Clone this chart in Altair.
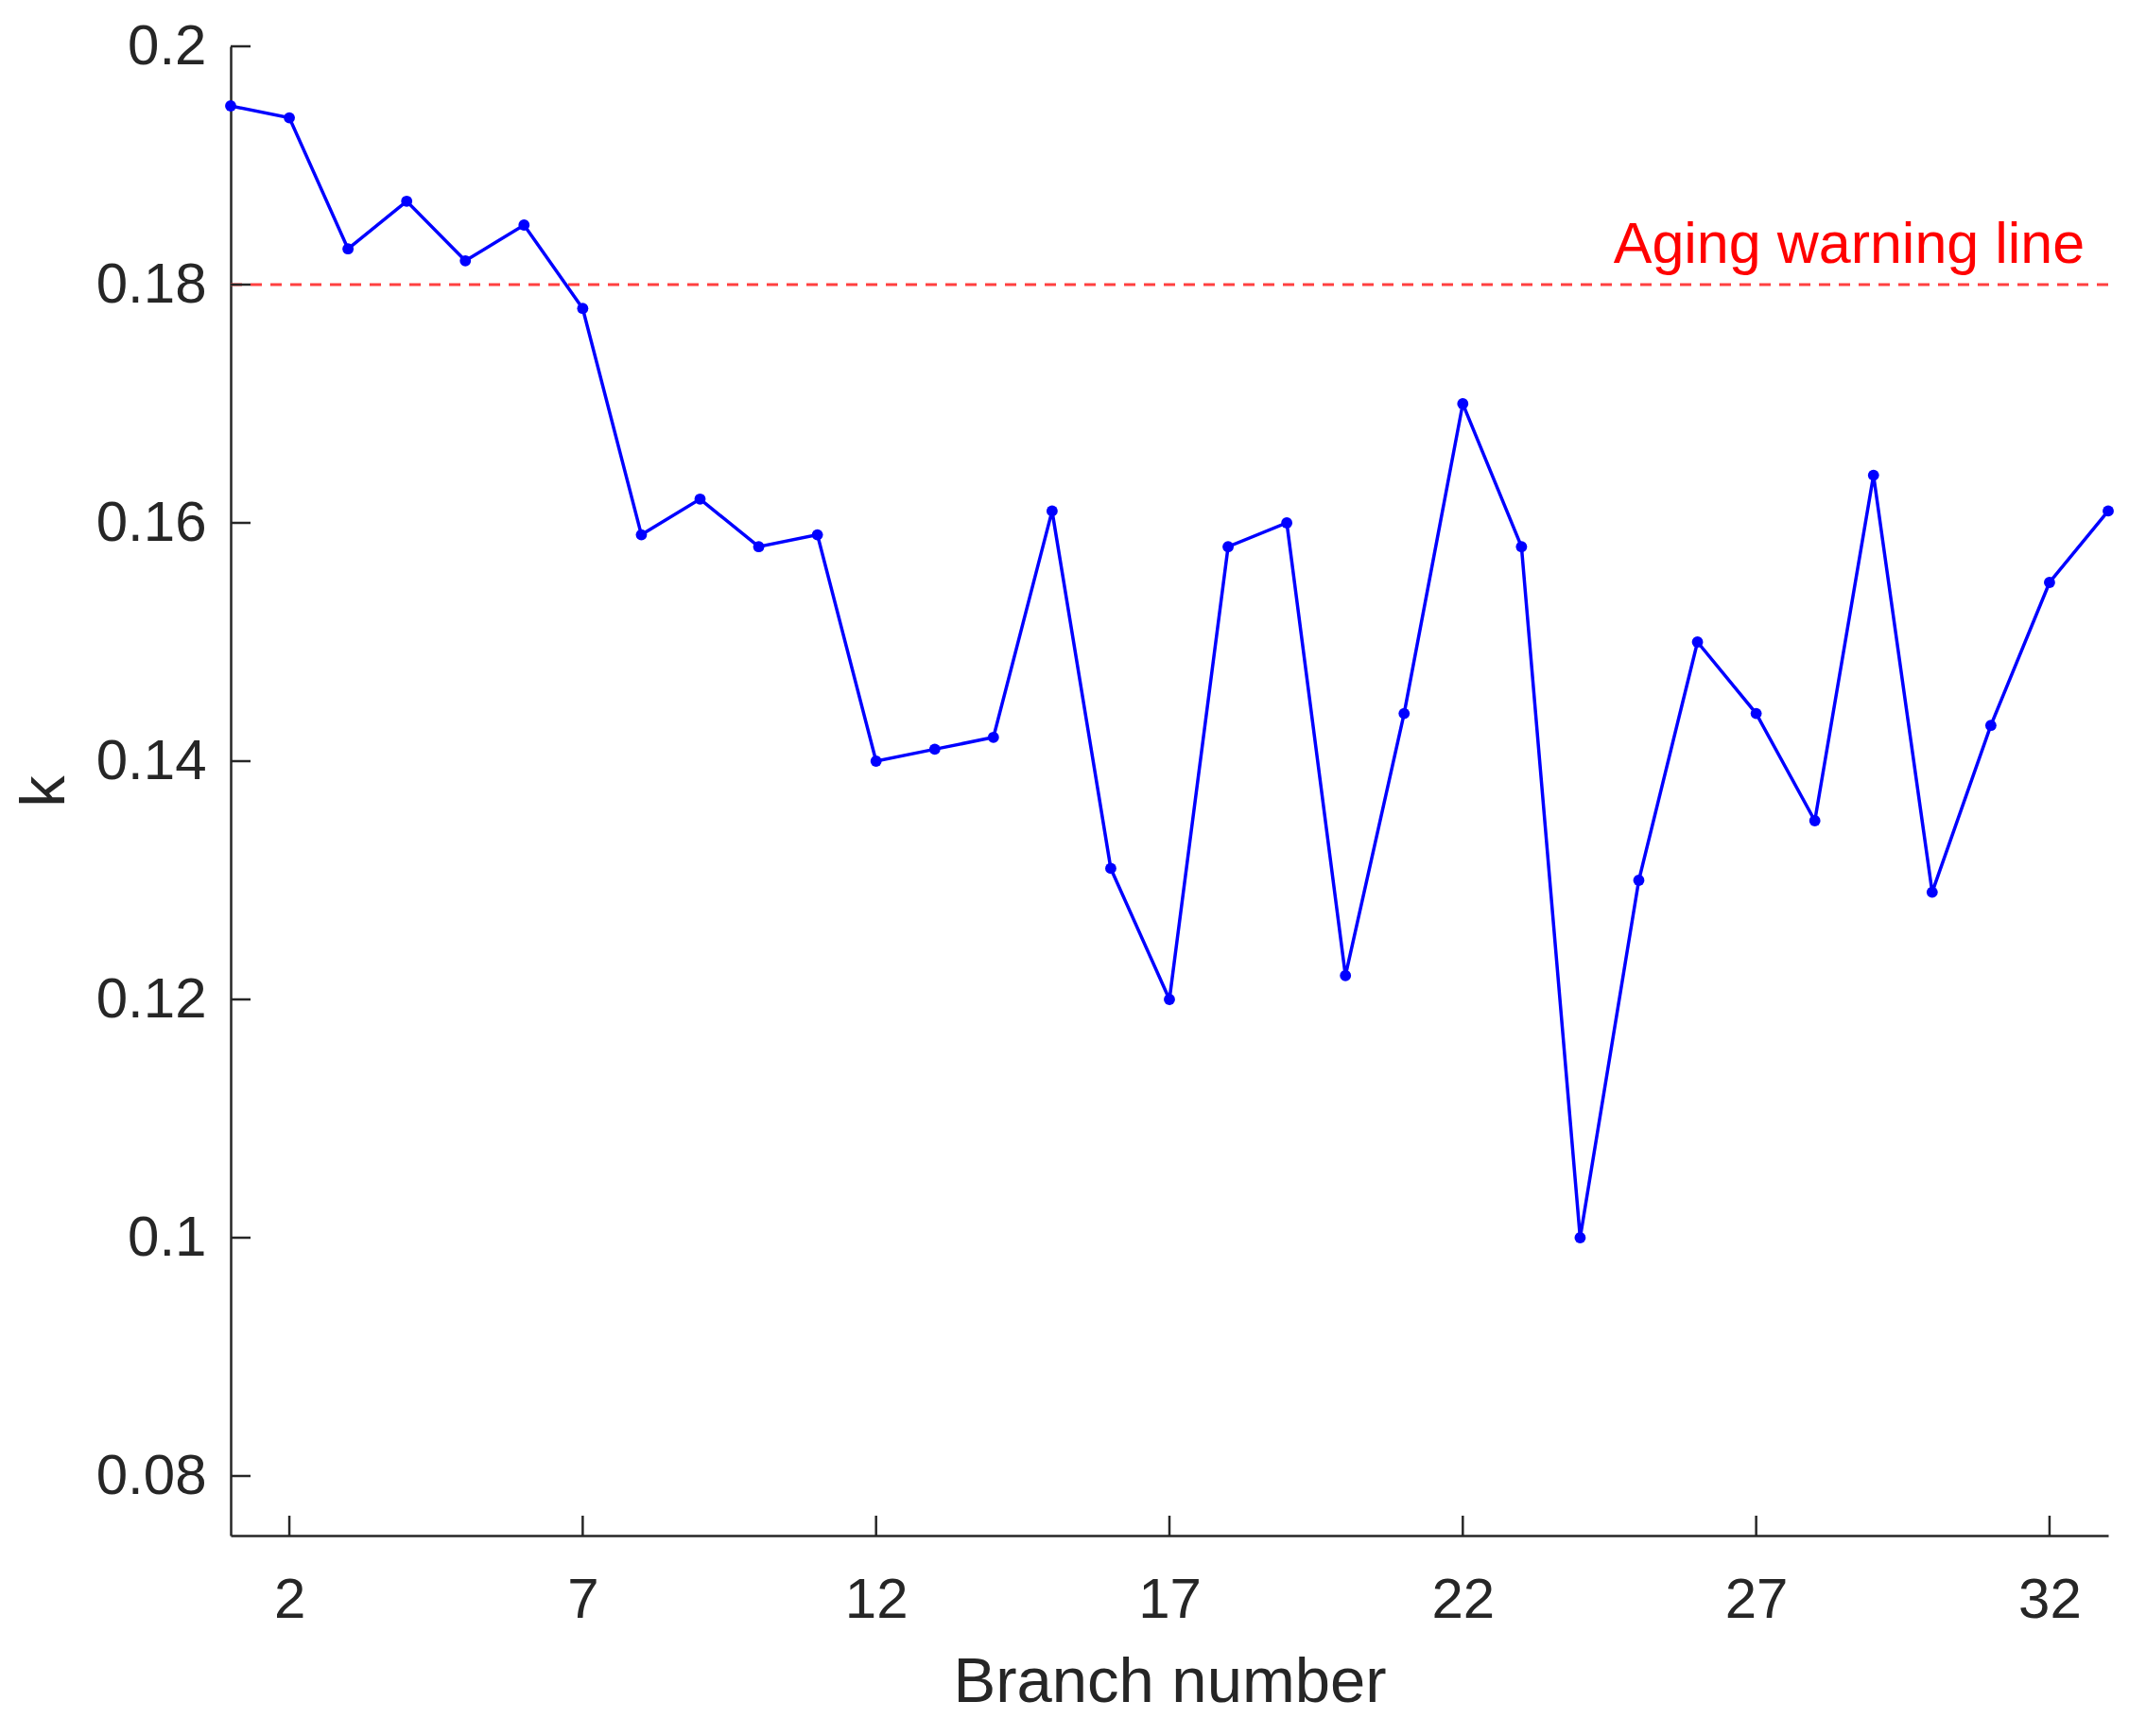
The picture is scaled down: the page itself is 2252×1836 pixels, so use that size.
import altair as alt
import pandas as pd

branch = list(range(1, 34))
k_values = [0.195, 0.194, 0.183, 0.187, 0.182, 0.185, 0.178, 0.159, 0.162, 0.158,
            0.159, 0.140, 0.141, 0.142, 0.161, 0.131, 0.120, 0.158, 0.160, 0.122,
            0.144, 0.170, 0.158, 0.100, 0.130, 0.150, 0.144, 0.135, 0.164, 0.129,
            0.143, 0.155, 0.161]
x_ticks = [2, 7, 12, 17, 22, 27, 32]
y_ticks = [0.08, 0.10, 0.12, 0.14, 0.16, 0.18, 0.20]
y_tick_labels = ["0.08", "0.1", "0.12", "0.14", "0.16", "0.18", "0.2"]
warning_level = [0.18]
warning_text = ["Aging warning line"]
warning_text_pos = [(32.6, 0.1818)]

W, H = 1986, 1575
FONT = "Liberation Sans"
AX = "#262626"

df = pd.DataFrame({"branch": branch, "k": k_values})
xs = alt.Scale(domain=[1, 33], nice=False, zero=False)
ys = alt.Scale(domain=[0.075, 0.2], nice=False, zero=False)

label_map = "{" + ",".join(f"'{v:.2f}':'{l}'" for v, l in zip(y_ticks, y_tick_labels)) + "}"

base = alt.Chart(df)
line = base.mark_line(color="#0000ff", strokeWidth=3.5).encode(
    x=alt.X("branch:Q", scale=xs,
            axis=alt.Axis(values=x_ticks, format="d", title="Branch number", grid=False,
                          ticks=False, domainColor=AX, domainWidth=2.5,
                          labelFont=FONT, labelFontSize=60, labelColor=AX,
                          labelPadding=39, titleFont=FONT, titleFontSize=67,
                          titleFontWeight="normal", titleColor=AX, titlePadding=24)),
    y=alt.Y("k:Q", scale=ys,
            axis=alt.Axis(values=y_ticks, title="k", grid=False, ticks=False,
                          domainColor=AX, domainWidth=2.5,
                          labelExpr=f"{label_map}[format(datum.value, '.2f')]",
                          labelFont=FONT, labelFontSize=60, labelColor=AX,
                          labelPadding=26, titleFont=FONT, titleFontSize=67,
                          titleFontWeight="normal", titleColor=AX, titlePadding=20)),
)
points = base.mark_circle(color="#0000ff", opacity=1, size=140).encode(
    x=alt.X("branch:Q", scale=xs), y=alt.Y("k:Q", scale=ys))

warn = alt.Chart(pd.DataFrame({"k": warning_level})).mark_rule(
    color="#ff4040", strokeWidth=3, strokeDash=[12, 9]).encode(y=alt.Y("k:Q", scale=ys))

wt = pd.DataFrame({"x": [p[0] for p in warning_text_pos], "y": [p[1] for p in warning_text_pos],
                   "t": warning_text})
warn_text = alt.Chart(wt).mark_text(color="#ff0000", font=FONT, fontSize=61,
                                    align="right", baseline="alphabetic").encode(
    x=alt.X("x:Q", scale=xs), y=alt.Y("y:Q", scale=ys), text="t:N")

xt = alt.Chart(pd.DataFrame({"v": x_ticks})).mark_rule(color=AX, strokeWidth=2.5).encode(
    x=alt.X("v:Q", scale=xs), y=alt.value(H), y2=alt.value(H - 21))
yt = alt.Chart(pd.DataFrame({"v": y_ticks})).mark_rule(color=AX, strokeWidth=2.5).encode(
    y=alt.Y("v:Q", scale=ys), x=alt.value(0), x2=alt.value(21))

chart = alt.layer(warn, line, points, warn_text, xt, yt).properties(
    width=W, height=H,
    autosize=alt.AutoSizeParams(type="none"),
    padding={"left": 236, "top": 41, "right": 14, "bottom": 205},
).configure(background="white").configure_view(stroke=None)

chart.save("out.html", embed_options={"renderer": "svg", "actions": False})
